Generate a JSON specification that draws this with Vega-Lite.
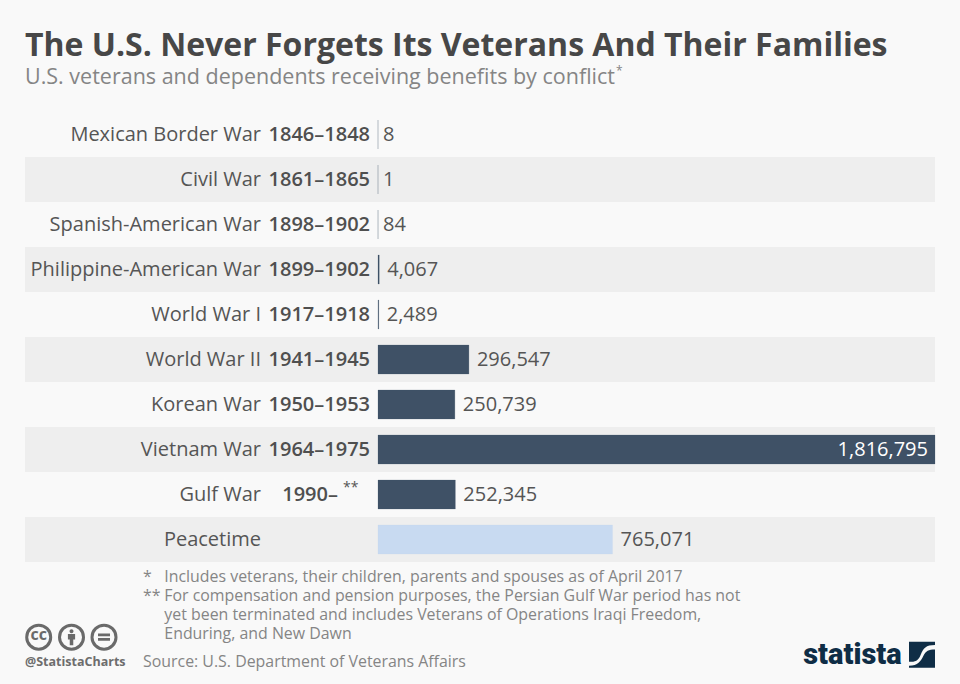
{
"$schema":"https://vega.github.io/schema/vega-lite/v6.json",
"width":910,"height":450,
"autosize":{"type":"none"},
"padding":{"left":25,"top":112,"right":25,"bottom":122},
"background":"#f9f9f9",
"title":{"text":"The U.S. Never Forgets Its Veterans And Their Families","subtitle":"U.S. veterans and dependents receiving benefits by conflict","anchor":"start","frame":"group","offset":-24,"font":"Open Sans","fontSize":32,"fontWeight":700,"color":"#474747","subtitleFont":"Open Sans","subtitleFontSize":21.5,"subtitleFontWeight":400,"subtitleColor":"#858585","subtitlePadding":4},
"config":{"axis":{"disable":true},"view":{"stroke":null},"text":{"font":"Open Sans"}},
"datasets":{"wars":[
{"conflict":"Mexican Border War","period":"1846–1848","value":8,"kind":"war"},
{"conflict":"Civil War","period":"1861–1865","value":1,"kind":"war"},
{"conflict":"Spanish-American War","period":"1898–1902","value":84,"kind":"war"},
{"conflict":"Philippine-American War","period":"1899–1902","value":4067,"kind":"war"},
{"conflict":"World War I","period":"1917–1918","value":2489,"kind":"war"},
{"conflict":"World War II","period":"1941–1945","value":296547,"kind":"war"},
{"conflict":"Korean War","period":"1950–1953","value":250739,"kind":"war"},
{"conflict":"Vietnam War","period":"1964–1975","value":1816795,"kind":"war"},
{"conflict":"Gulf War","period":"1990–","value":252345,"kind":"war"},
{"conflict":"Peacetime","period":"","value":765071,"kind":"peace"}
]},
"resolve":{"scale":{"y":"independent"}},
"layer":[
{"data":{"name":"wars"},
 "layer":[
 {"transform":[{"filter":{"field":"conflict","oneOf":["Civil War","Philippine-American War","World War II","Vietnam War","Peacetime"]}}],
  "mark":{"type":"rect","color":"#eeeeee"},
  "encoding":{
   "y":{"field":"conflict","type":"nominal","scale":{"domain":["Mexican Border War","Civil War","Spanish-American War","Philippine-American War","World War I","World War II","Korean War","Vietnam War","Gulf War","Peacetime"],"padding":0}},
   "x":{"datum":-1151398,"type":"quantitative","scale":{"domain":[-1151398,1816795],"nice":false,"zero":false}},
   "x2":{"datum":1816795}}},
 {"mark":{"type":"bar","size":29,"strokeWidth":0.2},
  "encoding":{
   "y":{"field":"conflict","type":"nominal"},
   "x":{"field":"value","type":"quantitative","stack":null},
   "color":{"field":"kind","type":"nominal","legend":null,"scale":{"domain":["war","peace"],"range":["#3f5166","#c8daf1"]}},
   "stroke":{"field":"kind","type":"nominal","legend":null,"scale":{"domain":["war","peace"],"range":["#3f5166","#c8daf1"]}}}},
 {"mark":{"type":"text","align":"right","baseline":"middle","fontSize":20,"dy":0.5,"color":"#555555"},
  "encoding":{"y":{"field":"conflict","type":"nominal"},"x":{"datum":-381625,"type":"quantitative"},"text":{"field":"conflict"}}},
 {"transform":[{"filter":"datum.period !== '' && datum.conflict !== 'Gulf War'"}],
  "mark":{"type":"text","align":"right","baseline":"middle","fontSize":20,"dy":0.5,"fontWeight":600,"color":"#4f4f4f"},
  "encoding":{"y":{"field":"conflict","type":"nominal"},"x":{"datum":-26094,"type":"quantitative"},"text":{"field":"period"}}},
 {"transform":[{"filter":"datum.conflict === 'Gulf War'"}],
  "mark":{"type":"text","align":"right","baseline":"middle","fontSize":20,"dy":0.5,"fontWeight":600,"color":"#4f4f4f"},
  "encoding":{"y":{"field":"conflict","type":"nominal"},"x":{"datum":-130470,"type":"quantitative"},"text":{"field":"period"}}},
 {"transform":[{"filter":"datum.value < 100"}],
  "mark":{"type":"text","align":"left","baseline":"middle","fontSize":20,"dx":5,"dy":0.5,"color":"#555555"},
  "encoding":{"y":{"field":"conflict","type":"nominal"},"x":{"field":"value","type":"quantitative"},"text":{"field":"value","type":"quantitative","format":","}}},
 {"transform":[{"filter":"datum.value >= 100 && datum.value < 1000000"}],
  "mark":{"type":"text","align":"left","baseline":"middle","fontSize":20,"dx":8,"dy":0.5,"color":"#555555"},
  "encoding":{"y":{"field":"conflict","type":"nominal"},"x":{"field":"value","type":"quantitative"},"text":{"field":"value","type":"quantitative","format":","}}},
 {"transform":[{"filter":"datum.value >= 1000000"}],
  "mark":{"type":"text","align":"right","baseline":"middle","fontSize":20,"dx":-7,"dy":0.5,"color":"#ffffff"},
  "encoding":{"y":{"field":"conflict","type":"nominal"},"x":{"field":"value","type":"quantitative"},"text":{"field":"value","type":"quantitative","format":","}}}
 ]},
{"layer":[
 {"data":{"values":[{"t":"*"}]},"mark":{"type":"text","align":"left","fontSize":12,"color":"#858585"},
  "encoding":{"x":{"datum":776000,"type":"quantitative"},"y":{"datum":-0.91,"type":"quantitative","scale":{"domain":[0,10],"reverse":true,"nice":false,"zero":false}},"text":{"field":"t"}}},
 {"data":{"values":[{"t":"**"}]},"mark":{"type":"text","align":"left","fontSize":14,"color":"#555555"},
  "encoding":{"x":{"datum":-114161,"type":"quantitative"},"y":{"datum":8.36,"type":"quantitative"},"text":{"field":"t"}}},
 {"data":{"values":[{"t":"*"}]},"mark":{"type":"text","align":"left","fontSize":15.9,"color":"#858585"},
  "encoding":{"x":{"datum":-766500,"type":"quantitative"},"y":{"datum":10.33,"type":"quantitative"},"text":{"field":"t"}}},
 {"data":{"values":[{"t":"Includes veterans, their children, parents and spouses as of April 2017"}]},"mark":{"type":"text","align":"left","fontSize":15.9,"color":"#858585"},
  "encoding":{"x":{"datum":-697000,"type":"quantitative"},"y":{"datum":10.33,"type":"quantitative"},"text":{"field":"t"}}},
 {"data":{"values":[{"t":"**"}]},"mark":{"type":"text","align":"left","fontSize":15.9,"color":"#858585"},
  "encoding":{"x":{"datum":-766500,"type":"quantitative"},"y":{"datum":10.76,"type":"quantitative"},"text":{"field":"t"}}},
 {"data":{"values":[{"t":"For compensation and pension purposes, the Persian Gulf War period has not"}]},"mark":{"type":"text","align":"left","fontSize":15.9,"color":"#858585"},
  "encoding":{"x":{"datum":-697000,"type":"quantitative"},"y":{"datum":10.76,"type":"quantitative"},"text":{"field":"t"}}},
 {"data":{"values":[{"t":"yet been terminated and includes Veterans of Operations Iraqi Freedom,"}]},"mark":{"type":"text","align":"left","fontSize":15.9,"color":"#858585"},
  "encoding":{"x":{"datum":-697000,"type":"quantitative"},"y":{"datum":11.18,"type":"quantitative"},"text":{"field":"t"}}},
 {"data":{"values":[{"t":"Enduring, and New Dawn"}]},"mark":{"type":"text","align":"left","fontSize":15.9,"color":"#858585"},
  "encoding":{"x":{"datum":-697000,"type":"quantitative"},"y":{"datum":11.6,"type":"quantitative"},"text":{"field":"t"}}},
 {"data":{"values":[{"t":"Source: U.S. Department of Veterans Affairs"}]},"mark":{"type":"text","align":"left","fontSize":15.9,"color":"#858585"},
  "encoding":{"x":{"datum":-766500,"type":"quantitative"},"y":{"datum":12.23,"type":"quantitative"},"text":{"field":"t"}}},
 {"data":{"values":[{"t":"@StatistaCharts"}]},"mark":{"type":"text","align":"left","fontSize":12.5,"fontWeight":700,"color":"#6d6d6d"},
  "encoding":{"x":{"datum":-1151398,"type":"quantitative"},"y":{"datum":12.23,"type":"quantitative"},"text":{"field":"t"}}},
 {"data":{"values":[{"i":"by"}]},"mark":{"type":"point","shape":"circle","size":576,"filled":false,"strokeWidth":3,"color":"#6a6a6a","opacity":1},
  "encoding":{"x":{"datum":-999700,"type":"quantitative"},"y":{"datum":11.67,"type":"quantitative"}}},
 {"data":{"values":[{"t":"cc"}]},"mark":{"type":"text","align":"center","baseline":"middle","fontSize":16,"fontWeight":700,"color":"#6a6a6a"},
  "encoding":{"x":{"datum":-1106700,"type":"quantitative"},"y":{"datum":11.63,"type":"quantitative"},"text":{"field":"t"}}},
 {"data":{"values":[{"i":"cc"}]},"mark":{"type":"point","shape":"circle","size":576,"filled":false,"strokeWidth":3,"color":"#6a6a6a","opacity":1},
  "encoding":{"x":{"datum":-1106700,"type":"quantitative"},"y":{"datum":11.67,"type":"quantitative"}}},
 {"data":{"values":[{"i":"eq"}]},"mark":{"type":"point","shape":"circle","size":576,"filled":false,"strokeWidth":3,"color":"#6a6a6a","opacity":1},
  "encoding":{"x":{"datum":-893700,"type":"quantitative"},"y":{"datum":11.67,"type":"quantitative"}}},
 {"data":{"values":[{"i":"person"}]},"mark":{"type":"point","shape":"M0,-1 A0.25,0.25 0 1 1 0,-0.5 A0.25,0.25 0 1 1 0,-1 Z M-0.45,-0.4 H0.45 V0.3 H0.22 V1 H-0.22 V0.3 H-0.45 Z","size":256,"filled":true,"color":"#6a6a6a","opacity":1},
  "encoding":{"x":{"datum":-999700,"type":"quantitative"},"y":{"datum":11.67,"type":"quantitative"}}},
 {"data":{"values":[{"i":"equals"}]},"mark":{"type":"point","shape":"M-1,-0.6 H1 V-0.15 H-1 Z M-1,0.15 H1 V0.6 H-1 Z","size":144,"filled":true,"color":"#6a6a6a","opacity":1},
  "encoding":{"x":{"datum":-893700,"type":"quantitative"},"y":{"datum":11.67,"type":"quantitative"}}},
 {"data":{"values":[{"t":"statista"}]},"mark":{"type":"text","align":"right","font":"Roboto","fontSize":29,"fontWeight":900,"color":"#0f2d46"},
  "encoding":{"x":{"datum":1708000,"type":"quantitative"},"y":{"datum":12.07,"type":"quantitative"},"text":{"field":"t"}}},
 {"data":{"values":[{"i":"flag"}]},"mark":{"type":"point","shape":"M-1,-1 H1 V-0.75 C0.3,-0.75 0.1,-0.5 -0.1,0 C-0.3,0.5 -0.5,0.55 -1,0.55 Z M1,-0.4 V1 H-1 V0.85 C-0.3,0.85 -0.1,0.5 0.1,0.1 C0.3,-0.3 0.5,-0.4 1,-0.4 Z","size":676,"filled":true,"color":"#0f2d46","opacity":1},
  "encoding":{"x":{"datum":1774400,"type":"quantitative"},"y":{"datum":12.06,"type":"quantitative"}}}
]}
]}
